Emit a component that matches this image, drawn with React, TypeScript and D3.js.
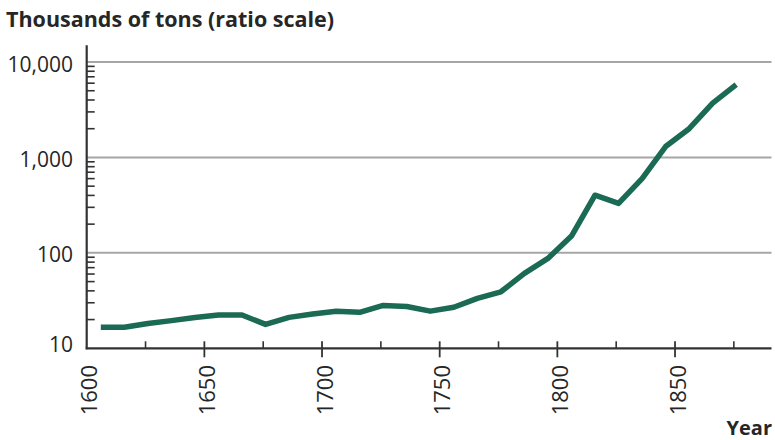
import React from "react";
import * as d3 from "d3";

const years = [1606, 1616, 1626, 1636, 1646, 1656, 1666, 1676, 1686, 1696, 1706, 1716, 1726, 1736, 1746, 1756, 1766, 1776, 1786, 1796, 1806, 1816, 1826, 1836, 1846, 1856, 1866, 1876];
const tons = [16.6, 16.6, 18.2, 19.5, 21, 22.3, 22.3, 17.8, 21.1, 22.9, 24.4, 23.8, 28.1, 27.4, 24.5, 26.9, 33.4, 39.1, 61, 87.5, 150, 402, 330, 600, 1300, 2000, 3700, 5800];
const yTickValues = [10, 100, 1000, 10000];
const yTickLabels = ["10", "100", "1,000", "10,000"];
const xMajorTicks = [1600, 1650, 1700, 1750, 1800, 1850];
const xMinorTicks = [1625, 1675, 1725, 1775, 1825, 1875];
const title = "Thousands of tons (ratio scale)";
const xTitle = "Year";

const W = 775;
const H = 440;
const FONT = "'Open Sans', 'Noto Sans', sans-serif";

export default function App() {
  const x = d3.scaleLinear().domain([1600, 1891]).range([86.7, 771.5]);
  const y = d3.scaleLog().domain([10, 15000]).range([348.3, 45.2]);

  const minor: number[] = [];
  [10, 100, 1000].forEach((d) => {
    for (let k = 2; k <= 9; k++) minor.push(d * k);
  });

  const line = d3
    .line<number>()
    .x((_, i) => x(years[i]))
    .y((d) => y(d));

  const axisColor = "#333";
  const gridColor = "#a6a6a6";
  const textColor = "#262626";

  return (
    <div style={{ position: "fixed", left: 0, top: 0, width: W, height: H, background: "#fff" }}>
      <svg width={W} height={H} style={{ display: "block", fontFamily: FONT }}>
        <rect width={W} height={H} fill="#fff" />
        <text x={6} y={27} fontSize={21.5} fontWeight={700} fill={textColor}>
          {title}
        </text>
        {/* gridlines */}
        {yTickValues.slice(1).map((v) => (
          <line key={"g" + v} x1={x(1600)} x2={x(1891)} y1={y(v)} y2={y(v)} stroke={gridColor} strokeWidth={2} />
        ))}
        {/* y minor ticks */}
        {minor.map((v) => (
          <line key={"m" + v} x1={x(1600)} x2={x(1600) + 8} y1={y(v)} y2={y(v)} stroke={axisColor} strokeWidth={1.6} />
        ))}
        {/* y labels */}
        {yTickValues.map((v, i) => (
          <text
            key={"yl" + v}
            x={73}
            y={y(v) + (v === 10 ? -4 : 2)}
            dy="0.36em"
            textAnchor="end"
            fontSize={21}
            fill={textColor}
          >
            {yTickLabels[i]}
          </text>
        ))}
        {/* x ticks */}
        {xMajorTicks.slice(1).map((v) => (
          <line key={"xm" + v} x1={x(v)} x2={x(v)} y1={y(10) - 7} y2={y(10) + 9} stroke={axisColor} strokeWidth={1.8} />
        ))}
        {xMinorTicks.map((v) => (
          <line key={"xn" + v} x1={x(v)} x2={x(v)} y1={y(10) - 7} y2={y(10)} stroke={axisColor} strokeWidth={1.6} />
        ))}
        {/* x labels */}
        {xMajorTicks.map((v) => (
          <text
            key={"xl" + v}
            transform={`translate(${x(v) + 1.5},${365}) rotate(-90)`}
            textAnchor="end"
            dominantBaseline="central"
            fontSize={22}
            fill={textColor}
          >
            {v}
          </text>
        ))}
        {/* axes */}
        <line x1={x(1600)} x2={x(1600)} y1={y(15000)} y2={y(10) + 1} stroke={axisColor} strokeWidth={2.2} />
        <line x1={x(1600) - 1} x2={x(1891)} y1={y(10)} y2={y(10)} stroke={axisColor} strokeWidth={2.2} />
        {/* data line */}
        <path d={line(tons) || ""} fill="none" stroke="#1b6a53" strokeWidth={5.5} strokeLinejoin="round" strokeLinecap="butt" />
        <text x={772} y={435} textAnchor="end" fontSize={20} fontWeight={700} fill={textColor}>
          {xTitle}
        </text>
      </svg>
    </div>
  );
}
